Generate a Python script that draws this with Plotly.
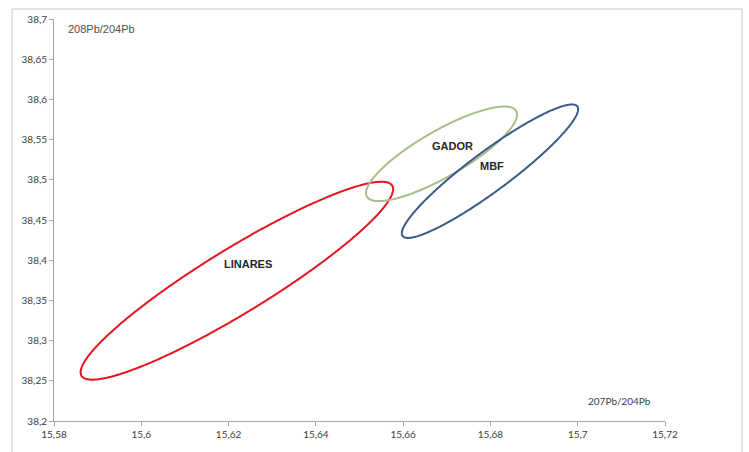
import numpy as np
import plotly.graph_objects as go

# Lead isotope fields: each ellipse given by its centre, half-extent in x and y,
# and the cosine of the phase linking x and y (controls tilt/width).
groups = ["LINARES", "GADOR", "MBF"]
center_x = [15.6219, 15.6688, 15.6799]
center_y = [38.3745, 38.5323, 38.5107]
half_x = [0.0358, 0.0173, 0.0202]
half_y = [0.1231, 0.0588, 0.0830]
phase_cos = [0.925, 0.83, 0.93]
colors = ["#e3151f", "#a9bd8c", "#3b5a8a"]

label_x = [15.6245, 15.6712, 15.6804]
label_y = [38.3955, 38.5416, 38.5168]

x_ticks = [15.58, 15.60, 15.62, 15.64, 15.66, 15.68, 15.70, 15.72]
x_tick_text = ["15,58", "15,6", "15,62", "15,64", "15,66", "15,68", "15,7", "15,72"]
y_ticks = [38.2, 38.25, 38.3, 38.35, 38.4, 38.45, 38.5, 38.55, 38.6, 38.65, 38.7]
y_tick_text = ["38,2", "38,25", "38,3", "38,35", "38,4", "38,45", "38,5",
               "38,55", "38,6", "38,65", "38,7"]

t = np.linspace(0, 2 * np.pi, 721)
fig = go.Figure()
for name, cx, cy, rx, ry, pc, col in zip(groups, center_x, center_y, half_x,
                                         half_y, phase_cos, colors):
    phi = np.arccos(pc)
    fig.add_trace(go.Scatter(
        x=cx + rx * np.cos(t),
        y=cy + ry * np.cos(t - phi),
        mode="lines", line=dict(color=col, width=2, simplify=False),
        name=name, showlegend=False, hoverinfo="skip",
    ))

for name, lx, ly in zip(groups, label_x, label_y):
    fig.add_annotation(x=lx, y=ly, text="<b>%s</b>" % name, showarrow=False,
                       font=dict(family="Liberation Sans", size=11, color="#262626"))

fig.add_annotation(xref="paper", yref="paper", x=0.02, y=0.975, xanchor="left",
                   yanchor="middle", text="208Pb/204Pb", showarrow=False,
                   font=dict(family="Liberation Sans", size=11, color="#505050"))
fig.add_annotation(xref="paper", yref="paper", x=0.87, y=0.05, xanchor="left",
                   yanchor="middle", text="207Pb/204Pb", showarrow=False,
                   font=dict(family="Lato", size=10, color="#404040"))

# Outer chart-area frame
fig.add_shape(type="rect", xref="paper", yref="paper",
              x0=-0.0687, x1=1.126, y0=-0.12, y1=1.0248,
              line=dict(color="#c8c8c8", width=1), layer="below")

axis_common = dict(showgrid=False, zeroline=False, showline=True,
                   linecolor="#a6a6a6", linewidth=1, ticks="outside",
                   ticklen=4, tickcolor="#a6a6a6",
                   tickfont=dict(family="Lato", size=10, color="#404040"))
fig.update_xaxes(range=[15.58, 15.72], tickvals=x_ticks, ticktext=x_tick_text,
                 **axis_common)
fig.update_yaxes(range=[38.2, 38.7], tickvals=y_ticks, ticktext=y_tick_text,
                 **axis_common)

fig.update_layout(width=749, height=452,
                  margin=dict(l=54, r=84, t=19, b=29),
                  paper_bgcolor="white", plot_bgcolor="white")
fig.write_html("out.html")
